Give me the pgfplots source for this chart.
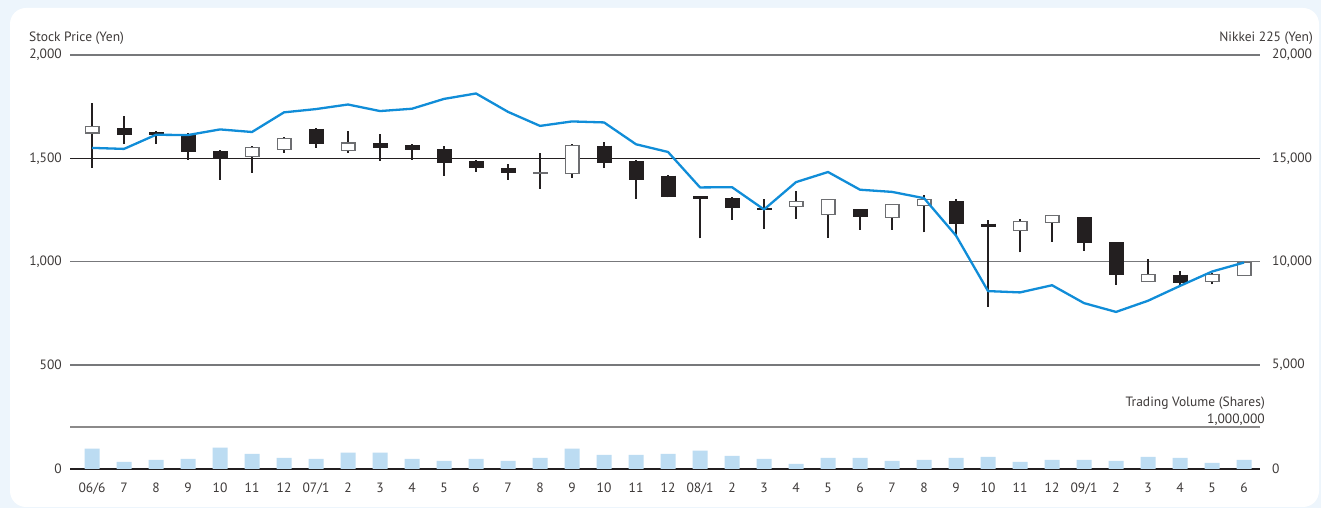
\documentclass[border=0pt]{standalone}
\usepackage{pgfplots}
\pgfplotsset{compat=1.18}
\usepackage{pgfplotstable}
\usepackage{fontspec}
\setmainfont{PT Sans}

\definecolor{txt}{HTML}{3E3A39}
\definecolor{grd}{HTML}{77787B}
\definecolor{blk}{HTML}{231F20}
\definecolor{nik}{HTML}{108DD8}
\definecolor{vol}{HTML}{BCDCF2}
\definecolor{bg}{HTML}{EDF5FC}
\definecolor{wout}{HTML}{6D6E71}
\definecolor{vgrid}{HTML}{8B8A8A}

% wicks: x low high
\pgfplotstableread{
x l h
0 1455 1767
1 1569 1705
2 1569 1632
3 1492 1624
4 1397 1540
5 1430 1559
6 1527 1602
7 1551 1645
8 1527 1632
9 1489 1617
10 1493 1569
11 1416 1559
12 1435 1490
13 1397 1471
14 1353 1526
15 1406 1569
16 1453 1579
17 1305 1490
18 1311 1418
19 1113 1310
20 1203 1313
21 1160 1305
22 1208 1342
23 1116 1298
24 1155 1255
25 1155 1273
26 1142 1321
27 1126 1303
28 782 1202
29 1045 1206
30 1097 1222
31 1053 1217
32 889 1097
33 905 1013
34 884 955
35 890 947
36 934 996
}\wicks

% rising months (white bodies): x open close
\pgfplotstableread{
x o c
0 1625 1650
5 1513 1548
6 1547 1593
8 1542 1571
15 1429 1561
22 1271 1287
23 1231 1298
25 1218 1273
26 1273 1297
29 1153 1193
30 1192 1220
33 907 936
35 907 936
36 936 994
}\ups

% falling months (black bodies): x open close
\pgfplotstableread{
x o c
1 1646 1611
2 1627 1612
3 1619 1530
4 1534 1500
7 1643 1571
9 1572 1548
10 1564 1540
11 1543 1477
12 1487 1455
13 1455 1429
16 1561 1479
17 1485 1397
18 1416 1311
20 1308 1260
21 1260 1251
24 1255 1216
27 1293 1182
28 1184 1167
31 1215 1092
32 1095 936
34 937 898
}\downs

% Nikkei 225 month-end
\pgfplotstableread{
x n
0 15505
1 15456
2 16140
3 16127
4 16399
5 16274
6 17225
7 17383
8 17604
9 17287
10 17400
11 17875
12 18138
13 17248
14 16569
15 16785
16 16737
17 15680
18 15307
19 13592
20 13603
21 12525
22 13849
23 14338
24 13481
25 13376
26 13072
27 11259
28 8576
29 8512
30 8859
31 7994
32 7568
33 8109
34 8828
35 9522
36 9958
}\nikkei

% trading volume (shares)
\pgfplotstableread{
x v
0 484000
1 169000
2 218000
3 242000
4 508000
5 363000
6 266000
7 242000
8 387000
9 387000
10 242000
11 194000
12 242000
13 194000
14 266000
15 484000
16 339000
17 339000
18 363000
19 435000
20 315000
21 242000
22 121000
23 266000
24 266000
25 194000
26 218000
27 266000
28 290000
29 169000
30 218000
31 218000
32 194000
33 290000
34 266000
35 145000
36 218000
}\volume

\pgfplotsset{
  base/.style={
    font=\fontsize{13.5}{16}\selectfont,
    /pgf/number format/assume math mode=true,
    /pgf/number format/1000 sep={,},
    ticklabel style={text=txt},
    anchor=south west, scale only axis, width=1190pt,
    xmin=-0.6875, xmax=36.5,
    axis line style={draw=none}, major tick length=0pt,
    scaled y ticks=false, clip=false,
  },
}

\begin{document}
\begin{tikzpicture}
\useasboundingbox (0pt,0pt) rectangle (1321pt,508pt);
\fill[bg] (0pt,0pt) rectangle (1321pt,508pt);
\fill[white, rounded corners=16pt] (10pt,1pt) rectangle (1319pt,500pt);

% ---- price panel ----
\begin{axis}[base, at={(70pt,143pt)}, height=310pt,
  ymin=500, ymax=2000, xtick=\empty,
  ytick={500,1000,1500,2000},
  ymajorgrids, grid style={grd, line width=1.3pt},
  extra y ticks={1500}, extra y tick labels={},
  extra y tick style={grid style={blk, line width=1.3pt}},
  yticklabel style={anchor=east, inner sep=0pt, xshift=-8pt},
]
\addplot[blk, line width=2.4pt, no markers, quiver={u=0, v=\thisrow{h}-\thisrow{l}}]
  table[x=x, y=l] {\wicks};
\addplot[blk, line width=15pt, no markers, quiver={u=0, v=\thisrow{c}-\thisrow{o}}]
  table[x=x, y=o] {\downs};
\addplot[wout, line width=15pt, no markers, quiver={u=0, v=\thisrow{c}-\thisrow{o},
   every arrow/.append style={shorten <=-1.2pt, shorten >=-1.2pt}}]
  table[x=x, y=o] {\ups};
\addplot[white, line width=12.6pt, no markers, quiver={u=0, v=\thisrow{c}-\thisrow{o}}]
  table[x=x, y=o] {\ups};
% doji months
\addplot[only marks, mark=-, mark size=7.5pt, mark options={wout, line width=1.6pt}]
  coordinates {(14,1430)};
\addplot[only marks, mark=-, mark size=7.5pt, mark options={blk, line width=2.4pt}]
  coordinates {(19,1310)};
\end{axis}

% ---- Nikkei 225 ----
\begin{axis}[base, at={(70pt,143pt)}, height=310pt,
  ymin=5000, ymax=20000, axis y line*=right, hide x axis,
  ytick={5000,10000,15000,20000},
  yticklabel style={anchor=west, inner sep=0pt, xshift=12pt},
]
\addplot[nik, line width=2.3pt, no markers, line join=round] table[x=x, y=n] {\nikkei};
\end{axis}

% ---- trading volume ----
\begin{axis}[base, at={(70pt,39pt)}, height=42pt,
  ymin=0, ymax=1000000,
  ytick={0,1000000}, yticklabels={0,},
  ymajorgrids, grid style={vgrid, line width=2pt},
  extra y ticks={0}, extra y tick labels={},
  extra y tick style={grid style={blk, line width=1.3pt}},
  yticklabel style={anchor=east, inner sep=0pt, xshift=-8pt},
  xtick={0,...,36},
  xticklabels={06/6,7,8,9,10,11,12,07/1,2,3,4,5,6,7,8,9,10,11,12,08/1,2,3,4,5,6,7,8,9,10,11,12,09/1,2,3,4,5,6},
  xticklabel style={anchor=north, inner sep=0pt, yshift=-14pt},
]
\addplot[ybar, bar width=15pt, bar shift=0pt, fill=vol, draw=none] table[x=x, y=v] {\volume};
\end{axis}

\begin{scope}[font=\fontsize{13.5}{16}\selectfont, text=txt]
\node[anchor=west, inner sep=0pt] at (29pt,470pt) {Stock Price (Yen)};
\node[anchor=east, inner sep=0pt] at (1313pt,470pt) {Nikkei 225 (Yen)};
\node[anchor=east, inner sep=0pt] at (1265pt,105pt) {Trading Volume (Shares)};
\node[anchor=east, inner sep=0pt] at (1265pt,88pt) {1,000,000};
\node[anchor=west, inner sep=0pt] at (1272pt,39pt) {0};
\end{scope}
\end{tikzpicture}
\end{document}
